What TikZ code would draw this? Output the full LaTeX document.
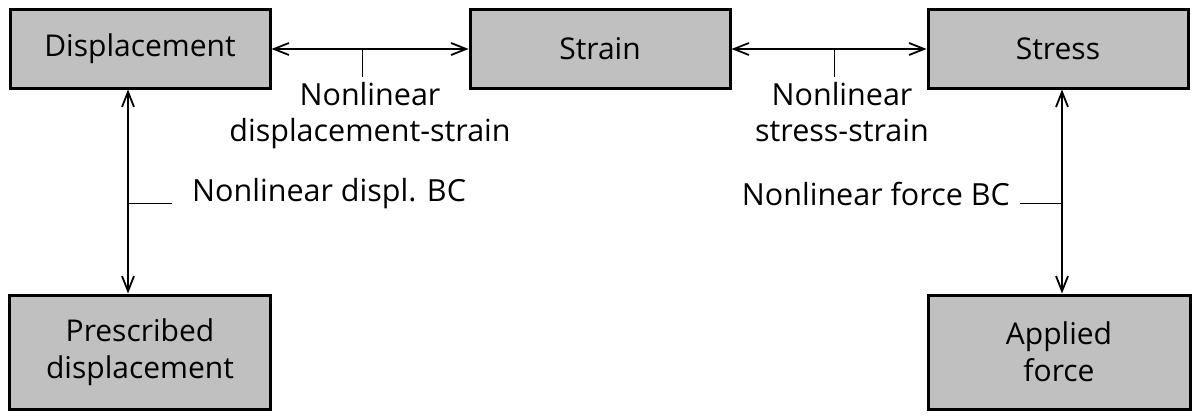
\documentclass[tikz,border=0pt]{standalone}
\usepackage{fontspec}
\setmainfont{Open Sans}
\usetikzlibrary{arrows.meta}
\definecolor{boxgray}{HTML}{C0C0C0}
\tikzset{
  blk/.style={draw=black, line width=3pt, fill=boxgray, inner sep=0pt, align=center, font=\fontsize{30}{37}\selectfont},
  conn/.style={line width=2.5pt, {Straight Barb[length=15pt,width=12pt,line width=1.8pt]}-{Straight Barb[length=15pt,width=12pt,line width=1.8pt]}},
  tick/.style={line width=1pt},
  lbl/.style={align=center, inner sep=0pt, font=\fontsize{30.5}{36}\selectfont}
}
\begin{document}
\begin{tikzpicture}[x=1pt,y=-1pt]
\useasboundingbox (0,0) rectangle (1204,420);
\node[blk, minimum width=260pt, minimum height=78pt] (disp) at (140,49) {Displacement};
\node[blk, minimum width=260pt, minimum height=78pt] (strain) at (600,49) {Strain};
\node[blk, minimum width=260pt, minimum height=78pt] (stress) at (1058,49) {Stress};
\node[blk, minimum width=261pt, minimum height=114pt] (pdisp) at (140,352) {Prescribed\\displacement};
\node[blk, minimum width=262pt, minimum height=114pt] (force) at (1059,352) {Applied\\force};

\draw[conn] (disp.east) -- (strain.west);
\draw[conn] (strain.east) -- (stress.west);
\draw[conn] (disp.south -| 128,0) -- (pdisp.north -| 128,0);
\draw[conn] (stress.south -| 1062,0) -- (force.north -| 1062,0);

\coordinate (t1a) at (362,50); \coordinate (t1b) at (362,77);
\coordinate (t2a) at (834,50); \coordinate (t2b) at (834,77);
\coordinate (t3a) at (128,203); \coordinate (t3b) at (172,203);
\coordinate (t4a) at (1062,203); \coordinate (t4b) at (1020,203);
\draw[tick] (t1a) -- (t1b);
\draw[tick] (t2a) -- (t2b);
\draw[tick] (t3a) -- (t3b);
\draw[tick] (t4a) -- (t4b);

\node[lbl, anchor=north] (l1) at (370,82) {Nonlinear\\displacement-strain};
\node[lbl, anchor=north] (l2) at (842,82) {Nonlinear\\stress-strain};
\node[lbl, anchor=west] (l3) at (192,194) {Nonlinear displ. BC};
\node[lbl, anchor=east] (l4) at (1010,194) {Nonlinear force BC};
\end{tikzpicture}
\end{document}
